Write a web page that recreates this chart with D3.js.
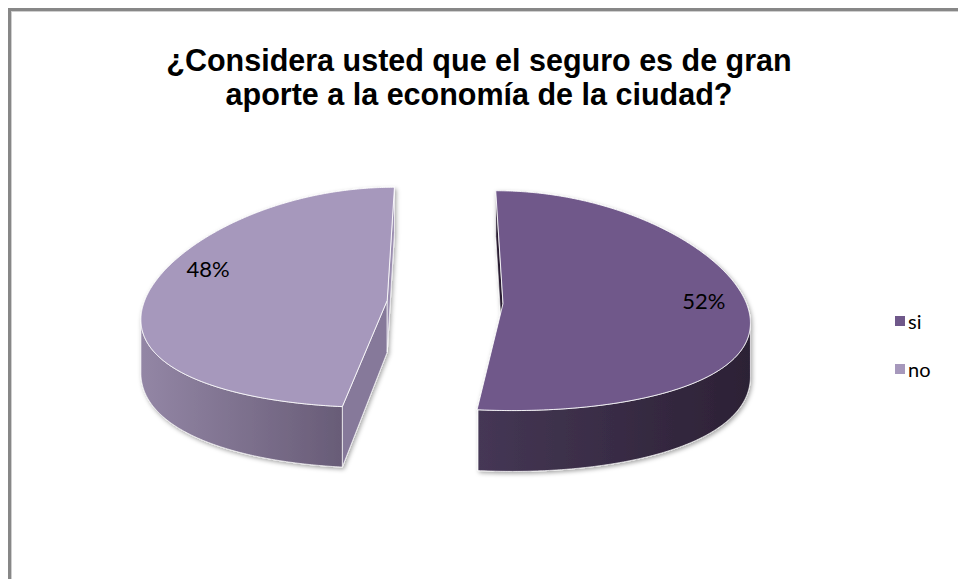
<!DOCTYPE html>
<html>
<head>
<meta charset="utf-8">
<script src="https://cdn.jsdelivr.net/npm/d3@7/dist/d3.min.js"></script>
<style>
  html, body { margin: 0; padding: 0; background: #fff; }
  svg { display: block; }
</style>
</head>
<body>
<svg id="chart" width="958" height="579"></svg>
<script>
// Survey answers
const categories = ["si", "no"];
const values = [52, 48];
const valueLabels = ["52%", "48%"];
const titleLines = ["¿Considera usted que el seguro es de gran", "aporte a la economía de la ciudad?"];

const topColors = ["#6F588A", "#A698BC"];
const sideColors = [["#453755", "#2C2135"], ["#9386A5", "#685C77"]];
const wallColors = { start: ["#2A1F33", "#86799A"], end: ["#2A1F33", "#9B8EB0"] };

const W = 958, H = 579;
const svg = d3.select("#chart");

// Chart frame
svg.append("rect").attr("x", 9.5).attr("y", 9.5).attr("width", 1000).attr("height", 700)
  .attr("fill", "#fff").attr("stroke", "#878787").attr("stroke-width", 3);
svg.append("rect").attr("x", 11.5).attr("y", 11.5).attr("width", 1000).attr("height", 700)
  .attr("fill", "none").attr("stroke", "#cfcfcf").attr("stroke-width", 1);

// Title
svg.append("g").selectAll("text").data(titleLines).join("text")
  .attr("x", 479).attr("y", (d, i) => 71 + i * 34)
  .attr("text-anchor", "middle")
  .attr("font-family", "'Liberation Sans', Arial, sans-serif")
  .attr("font-weight", "bold").attr("font-size", 30.5).attr("fill", "#000")
  .text(d => d);

// 3D pie projection: (u, v) on the unit disk, u to the right, v toward the viewer
const cx = 445, cy = 302, rx = 243, persp = 7, depth = 52, explode = 0.2387;
const xScale = d3.scaleLinear().domain([-1, 1]).range([cx - rx, cx + rx]);
function proj(u, v, z) {
  const s = persp / (persp - v);
  return [xScale(u * s), cy + 110 * v - 3 * v * v + z * s];
}

const pie = d3.pie().sort(null).value(d => d)(values);
const color = d3.scaleOrdinal().domain(categories).range(topColors);

const defs = svg.append("defs");
const shadow = defs.append("filter").attr("id", "shadow")
  .attr("x", "-10%").attr("y", "-10%").attr("width", "120%").attr("height", "130%");
shadow.append("feDropShadow").attr("dx", 1.5).attr("dy", 2).attr("stdDeviation", 2)
  .attr("flood-color", "#000").attr("flood-opacity", 0.35);

const slices = pie.map((p, i) => {
  const mid = (p.startAngle + p.endAngle) / 2;
  const uc = explode * Math.sin(mid), vc = -explode * Math.cos(mid);
  const pt = (a, r, z) => proj(uc + r * Math.sin(a), vc - r * Math.cos(a), z);
  return { p, i, mid, uc, vc, pt };
});

const line = d3.line();
const step = Math.PI / 360;
function arcPts(s, a0, a1, z) {
  const n = Math.max(2, Math.ceil((a1 - a0) / step));
  return d3.range(n + 1).map(k => s.pt(a0 + (a1 - a0) * k / n, 1, z));
}

const pieG = svg.append("g").attr("filter", "url(#shadow)");
const faceStroke = "rgba(255,255,255,0.85)";

slices.forEach(s => {
  const g = pieG.append("g");
  const { startAngle: a0, endAngle: a1 } = s.p;

  // radial walls, drawn when they face the camera
  [["start", a0, -1], ["end", a1, 1]].forEach(([kind, a, sign]) => {
    const nu = sign * Math.cos(a), nv = sign * Math.sin(a);
    const mu = s.uc + 0.5 * Math.sin(a), mv = s.vc - 0.5 * Math.cos(a);
    if (nu * (0 - mu) + nv * (persp - mv) <= 0) return;
    const pts = [s.pt(a, 0, 0), s.pt(a, 1, 0), s.pt(a, 1, depth), s.pt(a, 0, depth)];
    g.append("path").attr("d", line(pts) + "Z")
      .attr("fill", wallColors[kind][s.i])
      .attr("stroke", faceStroke).attr("stroke-width", 0.8).attr("stroke-linejoin", "round");
  });

  // outer rim, front-facing part only
  const vis = d3.range(a0, a1 + step / 2, step).filter(a => {
    const pu = s.uc + Math.sin(a), pv = s.vc - Math.cos(a);
    return Math.sin(a) * (0 - pu) + (-Math.cos(a)) * (persp - pv) > 0;
  });
  if (vis.length > 1) {
    const b0 = d3.min(vis), b1 = Math.min(d3.max(vis), a1);
    const topPts = arcPts(s, b0, b1, 0);
    const botPts = arcPts(s, b0, b1, depth).reverse();
    const xs = topPts.map(d => d[0]);
    const gid = "side" + s.i;
    const grad = defs.append("linearGradient").attr("id", gid)
      .attr("gradientUnits", "userSpaceOnUse")
      .attr("x1", d3.min(xs)).attr("x2", d3.max(xs)).attr("y1", 0).attr("y2", 0);
    grad.append("stop").attr("offset", 0).attr("stop-color", sideColors[s.i][0]);
    grad.append("stop").attr("offset", 1).attr("stop-color", sideColors[s.i][1]);
    g.append("path").attr("d", line(topPts.concat(botPts)) + "Z")
      .attr("fill", `url(#${gid})`)
      .attr("stroke", faceStroke).attr("stroke-width", 0.8).attr("stroke-linejoin", "round");
  }
  s.g = g;
});

// top faces last
slices.forEach(s => {
  const { startAngle: a0, endAngle: a1 } = s.p;
  const pts = [s.pt(0, 0, 0)].concat(arcPts(s, a0, a1, 0));
  s.g.append("path").attr("d", line(pts) + "Z")
    .attr("fill", color(categories[s.i]))
    .attr("stroke", faceStroke).attr("stroke-width", 1).attr("stroke-linejoin", "round");
});

// value labels
const labelShift = [-0.1, 0.29];
slices.forEach(s => {
  const [x, y] = s.pt(s.mid + labelShift[s.i], 0.83, 0);
  svg.append("text").attr("x", x).attr("y", y)
    .attr("text-anchor", "middle").attr("dominant-baseline", "central")
    .attr("font-family", "Lato, 'Open Sans', sans-serif").attr("font-size", 22)
    .attr("fill", "#000").text(valueLabels[s.i]);
});

// legend
const legend = svg.append("g").selectAll("g").data(categories).join("g")
  .attr("transform", (d, i) => `translate(895, ${316 + i * 48})`);
legend.append("rect").attr("width", 10).attr("height", 10).attr("fill", d => color(d));
legend.append("text").attr("x", 13).attr("y", 5).attr("dominant-baseline", "central")
  .attr("font-family", "Lato, 'Open Sans', sans-serif").attr("font-size", 20)
  .attr("fill", "#000").text(d => d);
</script>
</body>
</html>
